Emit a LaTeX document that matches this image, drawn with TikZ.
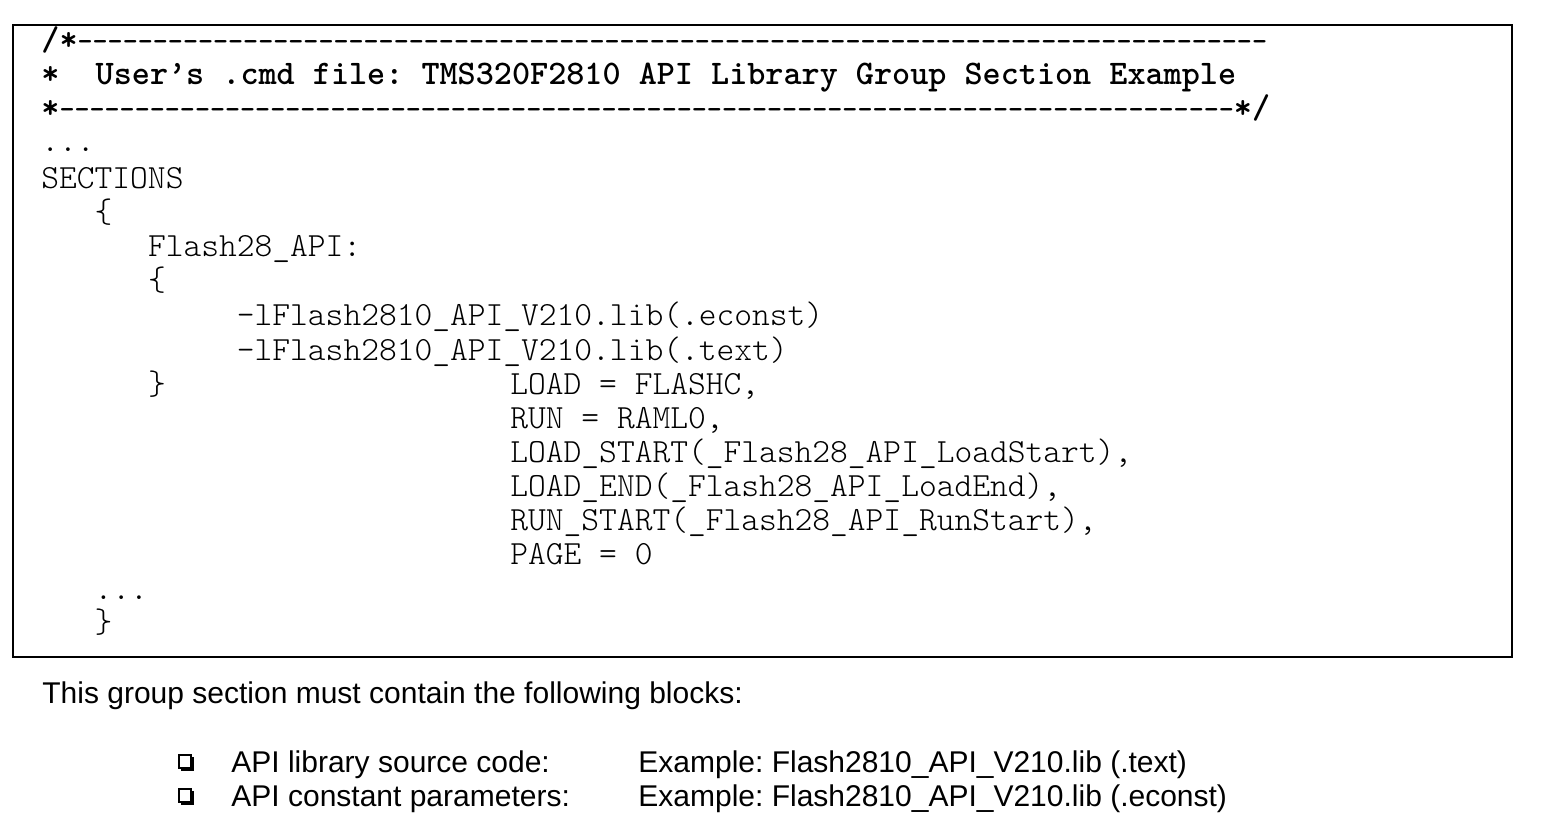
\documentclass[tikz,border=0pt]{standalone}
\usepackage{fontspec}
\setsansfont{Liberation Sans}
\frenchspacing
\newcommand{\dashrun}[1]{{\fontsize{14.34}{16}\selectfont\foreach \i in {1,...,#1}{-}}}
\begin{document}
\begin{tikzpicture}[x=0.5pt,y=-0.5pt,
	code/.style={anchor=base west,inner sep=0pt,font=\ttfamily\fontseries{l}\fontsize{16.92}{19}\selectfont},
	hdr/.style={anchor=base west,inner sep=0pt,font=\ttfamily\bfseries\fontsize{17.24}{19}\selectfont},
	txt/.style={anchor=base west,inner sep=0pt,font=\sffamily\fontsize{15}{18}\selectfont}]
		\useasboundingbox (0,0) rectangle (1551,823);
		\draw[line width=1.25pt] (13,25) rectangle (1512,657);
		% header comment
		\node[hdr] (top) at (41,51) {/*\dashrun{79}};
		\node[hdr] (title) at (41,85) {*\ \ User’s .cmd file: TMS320F2810 API Library Group Section Example};
		\node[hdr] (bot) at (41,119) {*\dashrun{78}*/};
		% linker sections
		\node[code] (dots1) at (41,152) {...};
		\node[code] (sec) at (41,189) {SECTIONS};
		\node[code] (ob1) at (94.3,223) {\{};
		\node[code] (grp) at (147.6,257) {Flash28\_API:};
		\node[code] (ob2) at (147.6,291) {\{};
		\node[code] (lconst) at (236.5,326) {-lFlash2810\_API\_V210.lib(.econst)};
		\node[code] (ltext) at (236.5,360) {-lFlash2810\_API\_V210.lib(.text)};
		\node[code] (cb2) at (147.6,394) {\}};
		\node[code] (load) at (510,394) {LOAD = FLASHC,};
		\node[code] (run) at (510,428) {RUN = RAML0,};
		\node[code] (lstart) at (510,462) {LOAD\_START(\_Flash28\_API\_LoadStart),};
		\node[code] (lend) at (510,496) {LOAD\_END(\_Flash28\_API\_LoadEnd),};
		\node[code] (rstart) at (510,530) {RUN\_START(\_Flash28\_API\_RunStart),};
		\node[code] (page) at (510,564) {PAGE = 0};
		\node[code] (dots2) at (94.3,599) {...};
		\node[code] (cb1) at (94.3,632) {\}};
		% text below the box
		\node[txt] (note) at (42,703) {This group section must contain the following blocks:};
		\foreach \y in {755,789} {
			\draw[line width=0.6pt] (179,\y) rectangle (191,\y+13);
			\draw[line width=1.5pt] (192.5,\y+2) -- (192.5,\y+14.5) -- (181,\y+14.5);
		}
		\node[txt] (src) at (231,772) {API library source code:};
		\node[txt] (srcex) at (638,772) {Example: Flash2810\_API\_V210.lib (.text)};
		\node[txt] (cst) at (231,806) {API constant parameters:};
		\node[txt] (cstex) at (638,806) {Example: Flash2810\_API\_V210.lib (.econst)};
\end{tikzpicture}
\end{document}
